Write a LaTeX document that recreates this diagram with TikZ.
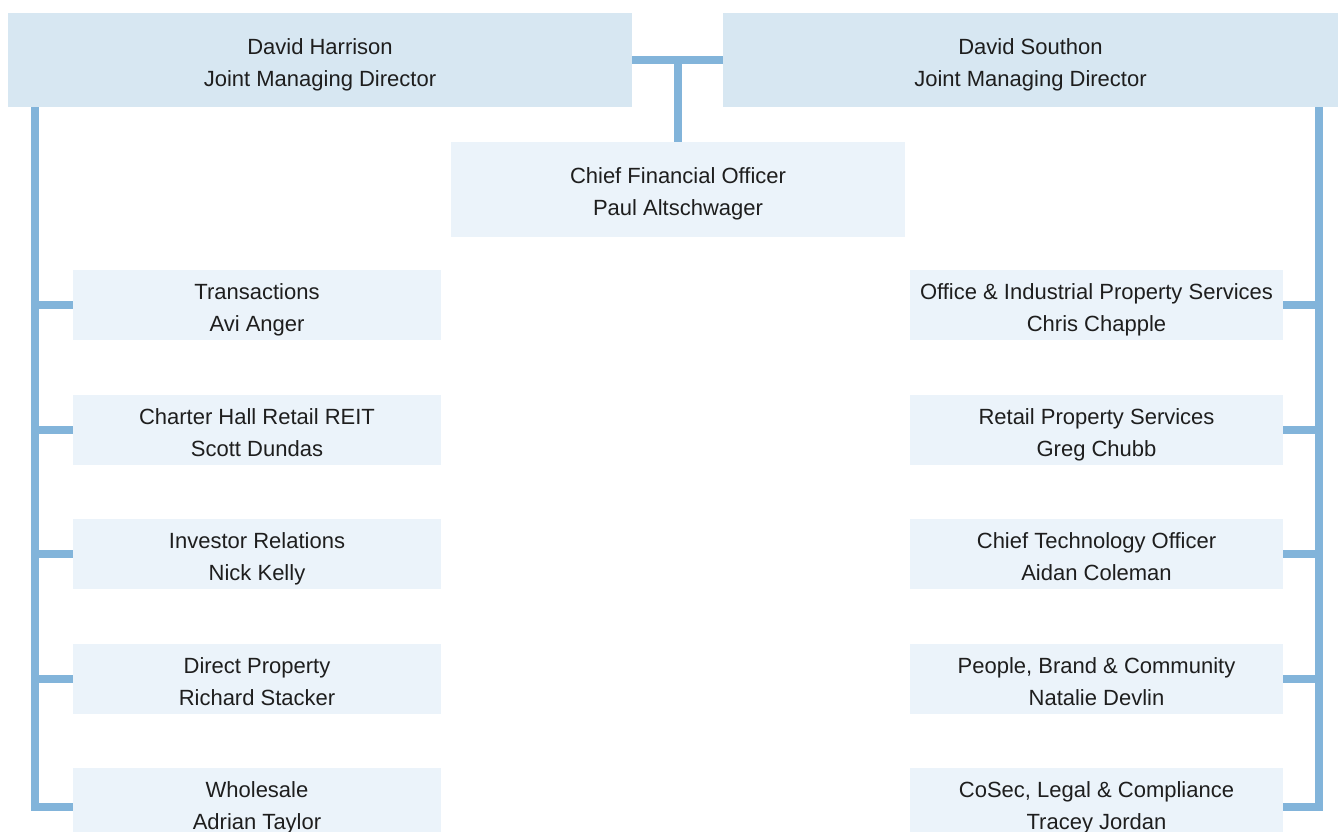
\documentclass[tikz,border=0pt]{standalone}
\usepackage{fontspec}
\setmainfont{Liberation Sans}
\definecolor{topfill}{HTML}{D7E7F2}
\definecolor{subfill}{HTML}{EBF3FA}
\definecolor{linec}{HTML}{82B4DA}
\definecolor{txt}{HTML}{1E1E1E}
\newcommand\twolines[2]{\raisebox{0pt}[\dimexpr\height+4pt\relax][\dimexpr\depth-4pt\relax]{\begin{tabular}{@{}c@{}}#1\\#2\end{tabular}}}
\begin{document}
\begin{tikzpicture}[x=1pt,y=-1pt,
  box/.style={fill=#1, draw=none, inner sep=0pt, text=txt,
    font=\fontsize{22}{32}\selectfont},
  topbox/.style={box=topfill, minimum height=94pt},
  leftbox/.style={box=subfill, minimum width=368pt, minimum height=70pt},
  rightbox/.style={box=subfill, minimum width=373pt, minimum height=70pt},
  conn/.style={draw=linec, line width=8pt, line join=miter, line cap=butt}]
\useasboundingbox (0,0) rectangle (1338,832);
\node[topbox, minimum width=624pt] (h) at (320,60) {\twolines{David Harrison}{Joint Managing Director}};
\node[topbox, minimum width=615pt] (s) at (1030.5,60) {\twolines{David Southon}{Joint Managing Director}};
\node[box=subfill, minimum width=454pt, minimum height=95pt] (c) at (678,189.5) {\twolines{Chief Financial Officer}{Paul Altschwager}};
% left column
\node[leftbox] (l1) at (257,305) {\twolines{Transactions}{Avi Anger}};
\node[leftbox] (l2) at (257,430) {\twolines{Charter Hall Retail REIT}{Scott Dundas}};
\node[leftbox] (l3) at (257,554) {\twolines{Investor Relations}{Nick Kelly}};
\node[leftbox] (l4) at (257,679) {\twolines{Direct Property}{Richard Stacker}};
\node[leftbox] (l5) at (257,803) {\twolines{Wholesale}{Adrian Taylor}};
% right column
\node[rightbox] (r1) at (1096.5,305) {\twolines{Office \& Industrial Property Services}{Chris Chapple}};
\node[rightbox] (r2) at (1096.5,430) {\twolines{Retail Property Services}{Greg Chubb}};
\node[rightbox] (r3) at (1096.5,554) {\twolines{Chief Technology Officer}{Aidan Coleman}};
\node[rightbox] (r4) at (1096.5,679) {\twolines{People, Brand \& Community}{Natalie Devlin}};
\node[rightbox] (r5) at (1096.5,803) {\twolines{CoSec, Legal \& Compliance}{Tracey Jordan}};
% connectors
\coordinate (L) at (34.5,807);
\coordinate (R) at (1318.5,807);
\path[conn] (h.east) -- (s.west);
\path[conn] (c.north) -- (c.north |- h.east);
\path[conn] (h.south -| L) -- (L) -- (L -| l5.west);
\path[conn] (s.south -| R) -- (R) -- (R -| r5.east);
\foreach \n in {l1,l2,l3,l4} \path[conn] (\n.west) -- (\n.west -| L);
\foreach \n in {r1,r2,r3,r4} \path[conn] (\n.east) -- (\n.east -| R);
\end{tikzpicture}
\end{document}
